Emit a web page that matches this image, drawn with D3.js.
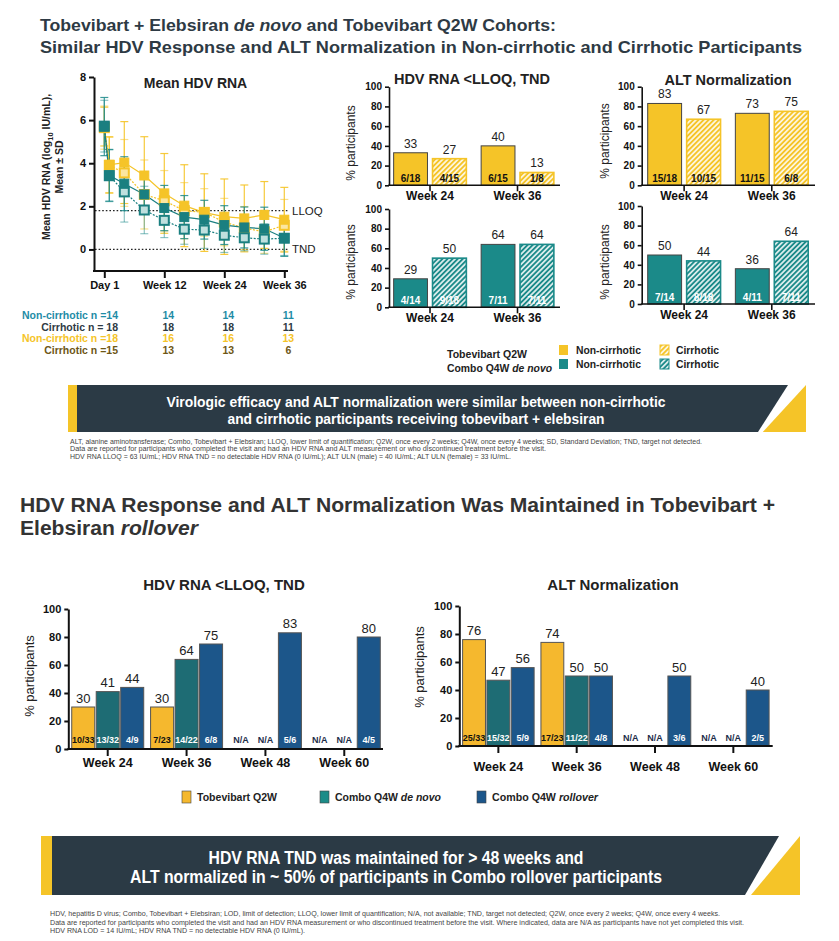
<!DOCTYPE html>
<html><head><meta charset="utf-8">
<script src="https://cdn.jsdelivr.net/npm/d3@7"></script>
<style>
body{margin:0;background:#fff;}
svg{font-family:"Liberation Sans",Arial,sans-serif;}
</style></head><body>
<svg id="c" width="839" height="941"></svg>
<script>
// ---------------- DATA ----------------
const weeks = [0,1,4,8,12,16,20,24,28,32,36];
const comboNC     = [5.70,3.44,3.05,2.55,1.92,1.50,1.38,1.13,1.02,0.96,0.53];
const comboNC_sd  = [1.35,1.20,1.25,0.90,1.05,1.00,0.90,0.90,0.95,1.00,0.85];
const comboC      = [5.72,3.42,2.67,1.83,1.35,0.94,0.90,0.66,0.54,0.48,0.52];
const comboC_sd   = [1.20,1.20,1.40,1.10,0.80,0.70,0.85,0.80,0.60,0.70,0.80];
const tobeNC      = [5.70,3.93,4.03,3.43,2.60,2.03,1.71,1.52,1.44,1.60,1.38];
const tobeNC_sd   = [0.90,1.30,1.90,1.80,1.85,1.90,1.80,1.75,1.55,1.55,1.50];
const tobeC       = [5.65,3.90,3.55,2.55,2.26,1.80,1.72,1.27,0.99,0.82,1.12];
const tobeC_sd    = [1.00,1.30,1.55,1.60,1.40,1.30,1.10,1.10,1.00,1.00,1.20];
const lloq = 1.8, tnd = 0;
const lineTicks = [0,12,24,36];
const lineTickLabels = ["Day 1","Week 12","Week 24","Week 36"];
const nLabels = ["Non-cirrhotic n =14","Cirrhotic n = 18","Non-cirrhotic n =18","Cirrhotic n =15"];
const nCounts = [[14,14,11],[18,18,11],[16,16,13],[13,13,6]];

const topWeeks = ["Week 24","Week 36"];
const hdvTobeNC = [33,40], hdvTobeNC_f = ["6/18","6/15"];
const hdvTobeC  = [27,13], hdvTobeC_f  = ["4/15","1/8"];
const hdvComboNC = [29,64], hdvComboNC_f = ["4/14","7/11"];
const hdvComboC  = [50,64], hdvComboC_f  = ["9/18","7/11"];
const altTobeNC = [83,73], altTobeNC_f = ["15/18","11/15"];
const altTobeC  = [67,75], altTobeC_f  = ["10/15","6/8"];
const altComboNC = [50,36], altComboNC_f = ["7/14","4/11"];
const altComboC  = [44,64], altComboC_f  = ["8/18","7/11"];

const botWeeks = ["Week 24","Week 36","Week 48","Week 60"];
const hdvTobe   = [30,30,null,null], hdvTobe_f   = ["10/33","7/23","N/A","N/A"];
const hdvDenovo = [41,64,null,null], hdvDenovo_f = ["13/32","14/22","N/A","N/A"];
const hdvRoll   = [44,75,83,80],     hdvRoll_f   = ["4/9","6/8","5/6","4/5"];
const altTobe   = [76,74,null,null], altTobe_f   = ["25/33","17/23","N/A","N/A"];
const altDenovo = [47,50,null,null], altDenovo_f = ["15/32","11/22","N/A","N/A"];
const altRoll   = [56,50,50,40],     altRoll_f   = ["5/9","4/8","3/6","2/5"];
const pctTicks = [0,20,40,60,80,100];

// ---------------- STYLE ----------------
const FONT = '"Liberation Sans", Arial, sans-serif';
const NARROW = '"Liberation Sans Narrow","Arial Narrow","Liberation Sans",Arial,sans-serif';
const YEL = "#F5C428", TEAL = "#1B8A89", TEAL_D = "#1a7f80";
const BYEL = "#F5B82E", BTEAL = "#1E6C74", BBLUE = "#1C568A";
const DARK = "#2b3a45", TXT = "#222";

const svg = d3.select("#c");
const defs = svg.append("defs");
function hatch(id, color){
  const p = defs.append("pattern").attr("id",id).attr("patternUnits","userSpaceOnUse")
    .attr("width",3.6).attr("height",3.6).attr("patternTransform","rotate(45)");
  p.append("rect").attr("width",3.6).attr("height",3.6).attr("fill",color);
  p.append("line").attr("x1",0.9).attr("y1",0).attr("x2",0.9).attr("y2",3.6)
    .attr("stroke","#fff").attr("stroke-width",1.5);
}
hatch("hY", YEL); hatch("hT", TEAL);

function fit(t,w){
  const L = t.node().getComputedTextLength();
  if (w && Math.abs(L-w)/w > 0.012) t.attr("textLength",w).attr("lengthAdjust","spacingAndGlyphs");
  return t;
}
function txt(x,y,parts,o={}){
  const t = svg.append("text").attr("x",x).attr("y",y)
    .attr("font-size",o.size||11).attr("font-weight",o.weight||"normal")
    .attr("fill",o.fill||TXT).attr("text-anchor",o.anchor||"start")
    .attr("font-family",o.family||FONT);
  if (typeof parts === "string") parts = [[parts]];
  parts.forEach(p=>{ const s=t.append("tspan").text(p[0]); if(p[1]) s.attr("font-style","italic"); });
  if (o.width) fit(t,o.width);
  return t;
}

// ---------------- TITLES ----------------
txt(40,31,[["Tobevibart + Elebsiran "],["de novo",1],[" and Tobevibart Q2W Cohorts:"]],{size:17,weight:"bold",fill:"#2e3a44",width:516});
txt(40,52.5,"Similar HDV Response and ALT Normalization in Non-cirrhotic and Cirrhotic Participants",{size:17,weight:"bold",fill:"#2e3a44",width:762});

// ---------------- LINE CHART ----------------
(function(){
  const x = d3.scaleLinear().domain([0,36]).range([104.3,284.3]);
  const y = d3.scaleLinear().domain([-1,8]).range([271,77]);
  const g = svg.append("g");
  txt(195.5,88,"Mean HDV RNA",{size:14,weight:"bold",anchor:"middle"});
  const yl = g.append("text").attr("transform","translate(50,167) rotate(-90)").attr("text-anchor","middle")
    .attr("font-size",10.5).attr("font-weight","bold").attr("fill",TXT);
  yl.append("tspan").text("Mean HDV RNA (log");
  yl.append("tspan").text("10").attr("font-size",7.5).attr("dy",3);
  yl.append("tspan").text(" IU/mL),").attr("dy",-3);
  g.append("text").attr("transform","translate(63,167) rotate(-90)").attr("text-anchor","middle")
    .attr("font-size",10.5).attr("font-weight","bold").attr("fill",TXT).text("Mean ± SD");

  [[lloq,"LLOQ"],[tnd,"TND"]].forEach(([v,l])=>{
    g.append("line").attr("x1",95).attr("x2",288).attr("y1",y(v)).attr("y2",y(v))
      .attr("stroke","#222").attr("stroke-width",1.3).attr("stroke-dasharray","1.6,2");
    g.append("text").attr("x",292).attr("y",y(v)+4).attr("font-size",11.5).attr("fill",TXT).text(l);
  });

  const series = [
    {v:tobeC, sd:tobeC_sd, c:YEL, open:true, eb:"rgba(245,196,40,0.55)"},
    {v:tobeNC, sd:tobeNC_sd, c:YEL, open:false, eb:"rgba(245,196,40,0.9)"},
    {v:comboC, sd:comboC_sd, c:TEAL_D, open:true, eb:"rgba(27,138,137,0.5)"},
    {v:comboNC, sd:comboNC_sd, c:TEAL_D, open:false, eb:"rgba(27,138,137,0.85)"}
  ];
  series.forEach(s=>{
    weeks.forEach((w,i)=>{
      const cx=x(w), lo=y(s.v[i]-s.sd[i]), hi=y(s.v[i]+s.sd[i]);
      g.append("line").attr("x1",cx).attr("x2",cx).attr("y1",lo).attr("y2",hi).attr("stroke",s.eb).attr("stroke-width",1.2);
      [lo,hi].forEach(yy=>g.append("line").attr("x1",cx-4).attr("x2",cx+4).attr("y1",yy).attr("y2",yy).attr("stroke",s.eb).attr("stroke-width",1.2));
    });
  });
  series.forEach(s=>{
    const line = d3.line().x((d,i)=>x(weeks[i])).y(d=>y(d));
    g.append("path").datum(s.v).attr("d",line).attr("fill","none").attr("stroke",s.c)
      .attr("stroke-width",1.2).attr("stroke-dasharray",s.open?"2,1.5":null);
  });
  series.forEach(s=>{
    weeks.forEach((w,i)=>{
      g.append("rect").attr("x",x(w)-4.5).attr("y",y(s.v[i])-4.5).attr("width",9).attr("height",9)
        .attr("fill",s.open?(s.c===YEL?"#fbe6a0":"#bfe0de"):s.c)
        .attr("stroke",s.c).attr("stroke-width",s.open?2:1);
    });
  });

  const ya = g.append("g").attr("transform","translate(94,0)")
    .call(d3.axisLeft(y).tickValues([0,2,4,6,8]).tickSize(5).tickSizeOuter(0));
  ya.select(".domain").attr("stroke","#111").attr("stroke-width",2);
  ya.selectAll(".tick line").attr("stroke","#111").attr("stroke-width",2);
  ya.selectAll("text").attr("font-size",11).attr("font-weight","bold").attr("fill","#111").attr("font-family",FONT);

  g.append("line").attr("x1",93).attr("x2",288).attr("y1",271).attr("y2",271).attr("stroke","#111").attr("stroke-width",2);
  const xa = g.append("g").attr("transform","translate(0,271)")
    .call(d3.axisBottom(x).tickValues(lineTicks).tickSize(7).tickFormat((d,i)=>lineTickLabels[i]));
  xa.select(".domain").remove();
  xa.selectAll(".tick line").attr("stroke","#111").attr("stroke-width",2);
  xa.selectAll("text").attr("y",18).attr("dy",0).attr("font-size",11).attr("font-weight","bold").attr("fill","#111").attr("font-family",FONT);

  const nCols = ["#1e8ca6","#2e3a44","#F5C428","#6e5716"];
  const rowY = [319,330.5,341.5,353.5];
  nLabels.forEach((l,r)=>{
    txt(118,rowY[r],l,{size:10.5,weight:"bold",fill:nCols[r],anchor:"end"});
    nCounts[r].forEach((n,c)=>{
      txt(x(lineTicks[c+1])+4,rowY[r],String(n),{size:10.5,weight:"bold",fill:nCols[r],anchor:"middle"});
    });
  });
})();

// ---------------- BAR PANEL ----------------
function barPanel(p){
  const x0 = d3.scaleBand().domain(p.cats).range(p.xRange);
  const x1 = d3.scaleBand().domain(p.keys).range([0,x0.bandwidth()]).paddingInner(p.pi).paddingOuter(p.po);
  const y = d3.scaleLinear().domain([0,100]).range([p.y0,p.y100]);
  const g = svg.append("g");
  p.keys.forEach(k=>{
    p.cats.forEach((c,ci)=>{
      const v = p.values[k][ci], f = p.fracs[k][ci];
      const bx = x0(c)+x1(k), bw = x1.bandwidth(), cx = bx+bw/2;
      if (v==null){
        g.append("text").attr("x",cx).attr("y",p.y0-p.fracOff).attr("text-anchor","middle")
          .attr("font-size",p.fracSize).attr("font-weight","bold").attr("fill","#1d2d4a").text(f);
        return;
      }
      const hatched = p.hatch && p.hatch[k];
      g.append("rect").attr("x",bx).attr("y",y(v)).attr("width",bw).attr("height",y(0)-y(v))
        .attr("fill",hatched?`url(#${p.hatch[k]})`:p.fill[k])
        .attr("stroke",hatched?p.fill[k]:p.stroke).attr("stroke-width",hatched?1.6:1);
      g.append("text").attr("x",cx).attr("y",y(v)-p.valOff).attr("text-anchor","middle")
        .attr("font-size",p.valSize).attr("fill",TXT).text(v);
      g.append("text").attr("x",cx).attr("y",p.y0-p.fracOff).attr("text-anchor","middle")
        .attr("font-size",p.fracSize).attr("font-weight","bold").attr("fill",p.fracFill[k]).text(f);
    });
  });
  const ya = g.append("g").attr("transform",`translate(${p.axisX},0)`)
    .call(d3.axisLeft(y).tickValues(pctTicks).tickSize(4).tickSizeOuter(0));
  ya.select(".domain").attr("stroke","#111").attr("stroke-width",p.aw);
  ya.selectAll(".tick line").attr("stroke","#111").attr("stroke-width",p.aw);
  ya.selectAll("text").attr("font-size",p.ytSize).attr("font-weight","bold").attr("fill","#111").attr("font-family",FONT);
  g.append("line").attr("x1",p.axisX-p.aw/2).attr("x2",p.axisEnd).attr("y1",y(0)).attr("y2",y(0))
    .attr("stroke","#111").attr("stroke-width",p.aw);
  const xa = g.append("g").attr("transform",`translate(0,${y(0)})`)
    .call(d3.axisBottom(x0).tickSize(p.tickLen).tickSizeOuter(0));
  xa.select(".domain").remove();
  xa.selectAll(".tick line").attr("stroke","#111").attr("stroke-width",p.aw);
  xa.selectAll("text").attr("y",p.labOff).attr("dy",0).attr("font-size",p.wkSize).attr("font-weight","bold")
    .attr("fill","#111").attr("font-family",FONT);
  g.append("text").attr("transform",`translate(${p.ylabX},${p.ylabY}) rotate(-90)`).attr("text-anchor","middle")
    .attr("font-size",p.ylabSize).attr("fill",TXT).text("% participants");
  if (p.title) txt(p.title[1],p.title[2],p.title[0],{size:p.title[3],weight:"bold",anchor:"middle"});
}

const topCommon = {cats:topWeeks, keys:["nc","c"], pi:0.13, po:0.19, aw:1.6, ytSize:10, tickLen:6,
  wkSize:12, valSize:12, valOff:5, fracSize:10, fracOff:3.5, labOff:15, ylabSize:12, stroke:"#444"};
barPanel(Object.assign({},topCommon,{xRange:[386.25,561.25], axisX:389, axisEnd:560, y0:185.3, y100:86.7,
  values:{nc:hdvTobeNC,c:hdvTobeC}, fracs:{nc:hdvTobeNC_f,c:hdvTobeC_f},
  fill:{nc:YEL,c:YEL}, hatch:{c:"hY"}, fracFill:{nc:"#111",c:"#111"}, ylabX:355, ylabY:143,
  title:["HDV RNA <LLOQ, TND",472,84,14.5]}));
barPanel(Object.assign({},topCommon,{xRange:[386.25,561.25], axisX:389, axisEnd:560, y0:307.3, y100:209,
  values:{nc:hdvComboNC,c:hdvComboC}, fracs:{nc:hdvComboNC_f,c:hdvComboC_f},
  fill:{nc:TEAL,c:TEAL}, hatch:{c:"hT"}, fracFill:{nc:"#fff",c:"#fff"}, ylabX:355, ylabY:262}));
barPanel(Object.assign({},topCommon,{xRange:[640.3,815.6], axisX:641.7, axisEnd:815, y0:185.3, y100:86.7,
  values:{nc:altTobeNC,c:altTobeC}, fracs:{nc:altTobeNC_f,c:altTobeC_f},
  fill:{nc:YEL,c:YEL}, hatch:{c:"hY"}, fracFill:{nc:"#111",c:"#111"}, ylabX:609, ylabY:141,
  title:["ALT Normalization",728,85,14.5]}));
barPanel(Object.assign({},topCommon,{xRange:[640.3,815.6], axisX:641.7, axisEnd:815, y0:304, y100:206,
  values:{nc:altComboNC,c:altComboC}, fracs:{nc:altComboNC_f,c:altComboC_f},
  fill:{nc:TEAL,c:TEAL}, hatch:{c:"hT"}, fracFill:{nc:"#fff",c:"#fff"}, ylabX:609, ylabY:262}));

// top legend
txt(447,358,"Tobevibart Q2W",{size:11,weight:"bold",width:80});
txt(447,372,[["Combo Q4W "],["de novo",1]],{size:11,weight:"bold",width:105});
[[YEL,"hY",348],[TEAL,"hT",362]].forEach(([c,h,yy])=>{
  svg.append("rect").attr("x",559).attr("y",yy-3).attr("width",9).attr("height",10).attr("fill",c);
  txt(576,yy+6,"Non-cirrhotic",{size:11,weight:"bold",width:65});
  svg.append("rect").attr("x",660).attr("y",yy-3).attr("width",9).attr("height",10).attr("fill",`url(#${h})`).attr("stroke",c).attr("stroke-width",1);
  txt(676,yy+6,"Cirrhotic",{size:11,weight:"bold",width:43});
});

// banners
function banner(x0,x1,y0,y1,slant,gap,stripeW,triW){
  svg.append("rect").attr("x",x0).attr("y",y0).attr("width",stripeW).attr("height",y1-y0).attr("fill",YEL);
  svg.append("polygon").attr("points",[[x0+stripeW,y0],[x1-triW-gap,y0],[x1-triW-gap-slant,y1],[x0+stripeW,y1]].join(" ")).attr("fill",DARK);
  svg.append("polygon").attr("points",[[x1,y0],[x1,y1],[x1-triW-slant+gap*0.2,y1]].join(" ")).attr("fill",YEL);
}
banner(68,806,385,432,30,4,9,14);
txt(416,407,"Virologic efficacy and ALT normalization were similar between non-cirrhotic",{size:15,weight:"bold",fill:"#fff",anchor:"middle",family:NARROW,width:499});
txt(416,424,"and cirrhotic participants receiving tobevibart + elebsiran",{size:15,weight:"bold",fill:"#fff",anchor:"middle",family:NARROW,width:377});
txt(70,443.5,"ALT, alanine aminotransferase; Combo, Tobevibart + Elebsiran; LLOQ, lower limit of quantification; Q2W, once every 2 weeks; Q4W, once every 4 weeks; SD, Standard Deviation; TND, target not detected.",{size:6.3,fill:"#444",width:632});
txt(70,451,"Data are reported for participants who completed the visit and had an HDV RNA and ALT measurement or who discontinued treatment before the visit.",{size:6.3,fill:"#444",width:476});
txt(70,458.5,"HDV RNA LLOQ = 63 IU/mL; HDV RNA TND = no detectable HDV RNA (0 IU/mL); ALT ULN (male) = 40 IU/mL; ALT ULN (female) = 33 IU/mL.",{size:6.3,fill:"#444",width:441});

// ---------------- SECTION 2 ----------------
txt(20,512,"HDV RNA Response and ALT Normalization Was Maintained in Tobevibart +",{size:20,weight:"bold",fill:"#333",width:755});
txt(20,535,[["Elebsiran "],["rollover",1]],{size:20,weight:"bold",fill:"#333",width:178});

const botCommon = {cats:botWeeks, keys:["t","d","r"], pi:0.06, po:0.14, aw:2, ytSize:11, tickLen:7,
  wkSize:12.5, valSize:13, valOff:4.5, fracSize:9, ylabSize:13, stroke:"#555",
  fill:{t:BYEL,d:BTEAL,r:BBLUE}, fracFill:{t:"#111",d:"#fff",r:"#fff"}};
barPanel(Object.assign({},botCommon,{xRange:[68.3,383.7], axisX:68.3, axisEnd:383, y0:749, y100:609,
  values:{t:hdvTobe,d:hdvDenovo,r:hdvRoll}, fracs:{t:hdvTobe_f,d:hdvDenovo_f,r:hdvRoll_f},
  fracOff:6.5, labOff:18, ylabX:34, ylabY:676, title:["HDV RNA <LLOQ, TND",224,590,15]}));
barPanel(Object.assign({},botCommon,{xRange:[459.2,772.5], axisX:459.3, axisEnd:772.7, y0:746, y100:606,
  values:{t:altTobe,d:altDenovo,r:altRoll}, fracs:{t:altTobe_f,d:altDenovo_f,r:altRoll_f},
  fracOff:5, labOff:25, ylabX:424, ylabY:667, title:["ALT Normalization",613,590,15]}));

// bottom legend
[[BYEL,182,[["Tobevibart Q2W"]],80],["#1d8c88",320,[["Combo Q4W "],["de novo",1]],106],[BBLUE,477,[["Combo Q4W "],["rollover",1]],106]].forEach(([c,xx,t,w])=>{
  svg.append("rect").attr("x",xx).attr("y",791).attr("width",9).attr("height",12).attr("fill",c).attr("stroke","#444").attr("stroke-width",0.6);
  txt(xx+15,801,t,{size:11,weight:"bold",width:w});
});

banner(41,800,836,895,34,5,11,16);
txt(396,864,"HDV RNA TND was maintained for > 48 weeks and",{size:18,weight:"bold",fill:"#fff",anchor:"middle",family:NARROW,width:375});
txt(396,883,"ALT normalized in ~ 50% of participants in Combo rollover participants",{size:18,weight:"bold",fill:"#fff",anchor:"middle",family:NARROW,width:532});
txt(50,915.5,"HDV, hepatitis D virus; Combo, Tobevibart + Elebsiran; LOD, limit of detection; LLOQ, lower limit of quantification; N/A, not available; TND, target not detected; Q2W, once every 2 weeks; Q4W, once every 4 weeks.",{size:6.3,fill:"#444",width:670});
txt(50,925,"Data are reported for participants who completed the visit and had an HDV RNA measurement or who discontinued treatment before the visit. Where indicated, data are N/A as participants have not yet completed this visit.",{size:6.3,fill:"#444",width:694});
txt(50,933,"HDV RNA LOD = 14 IU/mL; HDV RNA TND = no detectable HDV RNA (0 IU/mL).",{size:6.3,fill:"#444",width:255});
</script>
</body></html>
